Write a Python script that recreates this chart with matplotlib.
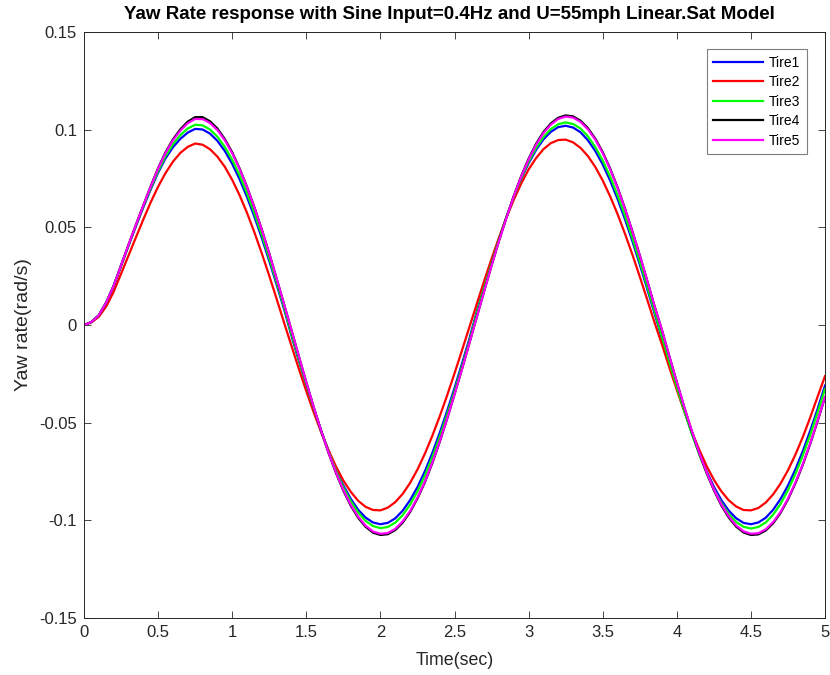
import numpy as np
import matplotlib
matplotlib.use("Agg")
import matplotlib.pyplot as plt
from matplotlib.ticker import FixedLocator, FixedFormatter

plt.rcParams['font.family'] = ['Liberation Sans', 'DejaVu Sans']

# sample times (s)
time_s = np.linspace(0.0, 5.0, 101)

tire1 = [
    0.0000, 0.0015, 0.0050, 0.0115, 0.0200, 0.0302, 0.0405, 0.0505, 0.0602, 0.0694,
    0.0780, 0.0853, 0.0910, 0.0953, 0.0985, 0.1004, 0.1001, 0.0980, 0.0943, 0.0891,
    0.0825, 0.0746, 0.0655, 0.0554, 0.0445, 0.0328, 0.0206, 0.0081, -0.0056, -0.0184,
    -0.0308, -0.0427, -0.0540, -0.0644, -0.0738, -0.0821, -0.0890, -0.0946, -0.0986, -0.1011,
    -0.1020, -0.1013, -0.0990, -0.0951, -0.0897, -0.0830, -0.0749, -0.0656, -0.0553, -0.0441,
    -0.0323, -0.0199, -0.0072, 0.0069, 0.0196, 0.0320, 0.0439, 0.0551, 0.0654, 0.0747,
    0.0828, 0.0896, 0.0950, 0.0989, 0.1013, 0.1020, 0.1011, 0.0987, 0.0946, 0.0891,
    0.0822, 0.0740, 0.0646, 0.0542, 0.0430, 0.0310, 0.0186, 0.0059, -0.0069, -0.0196,
    -0.0320, -0.0439, -0.0551, -0.0654, -0.0747, -0.0828, -0.0896, -0.0950, -0.0989, -0.1013,
    -0.1020, -0.1011, -0.0987, -0.0946, -0.0891, -0.0822, -0.0740, -0.0646, -0.0542, -0.0430,
    -0.0310,
]

tire2 = [
    0.0000, 0.0013, 0.0042, 0.0095, 0.0170, 0.0262, 0.0355, 0.0448, 0.0540, 0.0628,
    0.0708, 0.0778, 0.0836, 0.0881, 0.0912, 0.0929, 0.0923, 0.0900, 0.0862, 0.0810,
    0.0743, 0.0664, 0.0574, 0.0474, 0.0366, 0.0252, 0.0133, 0.0012, -0.0107, -0.0225,
    -0.0339, -0.0447, -0.0549, -0.0641, -0.0724, -0.0796, -0.0854, -0.0900, -0.0931, -0.0947,
    -0.0949, -0.0935, -0.0907, -0.0865, -0.0809, -0.0740, -0.0659, -0.0568, -0.0468, -0.0361,
    -0.0248, -0.0131, -0.0012, 0.0107, 0.0225, 0.0339, 0.0447, 0.0549, 0.0641, 0.0724,
    0.0796, 0.0854, 0.0900, 0.0931, 0.0947, 0.0949, 0.0935, 0.0907, 0.0865, 0.0809,
    0.0740, 0.0659, 0.0568, 0.0468, 0.0361, 0.0248, 0.0131, 0.0012, -0.0100, -0.0218,
    -0.0332, -0.0441, -0.0543, -0.0636, -0.0720, -0.0792, -0.0851, -0.0897, -0.0929, -0.0947,
    -0.0949, -0.0937, -0.0909, -0.0867, -0.0812, -0.0744, -0.0664, -0.0574, -0.0474, -0.0367,
    -0.0262,
]

tire3 = [
    0.0000, 0.0015, 0.0050, 0.0115, 0.0200, 0.0303, 0.0407, 0.0508, 0.0606, 0.0700,
    0.0788, 0.0864, 0.0925, 0.0972, 0.1006, 0.1025, 0.1022, 0.1001, 0.0964, 0.0912,
    0.0846, 0.0766, 0.0674, 0.0572, 0.0461, 0.0342, 0.0218, 0.0090, -0.0047, -0.0177,
    -0.0304, -0.0426, -0.0542, -0.0649, -0.0746, -0.0831, -0.0902, -0.0960, -0.1003, -0.1029,
    -0.1040, -0.1034, -0.1012, -0.0974, -0.0920, -0.0852, -0.0771, -0.0677, -0.0573, -0.0459,
    -0.0339, -0.0213, -0.0084, 0.0060, 0.0189, 0.0315, 0.0437, 0.0551, 0.0657, 0.0752,
    0.0836, 0.0906, 0.0962, 0.1003, 0.1028, 0.1037, 0.1029, 0.1006, 0.0966, 0.0911,
    0.0842, 0.0760, 0.0665, 0.0560, 0.0446, 0.0325, 0.0199, 0.0070, -0.0060, -0.0190,
    -0.0317, -0.0439, -0.0554, -0.0660, -0.0756, -0.0840, -0.0911, -0.0967, -0.1008, -0.1033,
    -0.1042, -0.1034, -0.1011, -0.0971, -0.0916, -0.0846, -0.0763, -0.0668, -0.0563, -0.0448,
    -0.0327,
]

tire4 = [
    0.0000, 0.0015, 0.0050, 0.0115, 0.0200, 0.0305, 0.0410, 0.0512, 0.0612, 0.0710,
    0.0803, 0.0884, 0.0950, 0.1002, 0.1041, 0.1064, 0.1064, 0.1043, 0.1006, 0.0952,
    0.0884, 0.0801, 0.0707, 0.0602, 0.0488, 0.0366, 0.0237, 0.0106, -0.0027, -0.0161,
    -0.0293, -0.0421, -0.0542, -0.0655, -0.0757, -0.0848, -0.0925, -0.0987, -0.1033, -0.1063,
    -0.1075, -0.1071, -0.1050, -0.1012, -0.0958, -0.0888, -0.0805, -0.0708, -0.0599, -0.0481,
    -0.0355, -0.0227, -0.0094, 0.0040, 0.0173, 0.0304, 0.0431, 0.0550, 0.0661, 0.0762,
    0.0851, 0.0927, 0.0988, 0.1032, 0.1061, 0.1073, 0.1068, 0.1046, 0.1008, 0.0954,
    0.0885, 0.0801, 0.0705, 0.0597, 0.0480, 0.0357, 0.0228, 0.0096, -0.0027, -0.0161,
    -0.0292, -0.0420, -0.0541, -0.0653, -0.0755, -0.0845, -0.0923, -0.0985, -0.1032, -0.1062,
    -0.1075, -0.1072, -0.1052, -0.1015, -0.0962, -0.0893, -0.0811, -0.0716, -0.0609, -0.0492,
    -0.0370,
]

tire5 = [
    0.0000, 0.0015, 0.0050, 0.0115, 0.0200, 0.0305, 0.0410, 0.0512, 0.0612, 0.0708,
    0.0800, 0.0880, 0.0945, 0.0995, 0.1033, 0.1055, 0.1054, 0.1034, 0.0998, 0.0946,
    0.0879, 0.0798, 0.0705, 0.0601, 0.0487, 0.0365, 0.0237, 0.0106, -0.0027, -0.0161,
    -0.0293, -0.0420, -0.0541, -0.0653, -0.0754, -0.0844, -0.0920, -0.0981, -0.1027, -0.1057,
    -0.1069, -0.1065, -0.1044, -0.1006, -0.0953, -0.0884, -0.0801, -0.0705, -0.0597, -0.0480,
    -0.0355, -0.0227, -0.0094, 0.0040, 0.0173, 0.0304, 0.0430, 0.0548, 0.0659, 0.0759,
    0.0847, 0.0922, 0.0982, 0.1026, 0.1055, 0.1067, 0.1062, 0.1040, 0.1002, 0.0949,
    0.0880, 0.0797, 0.0702, 0.0595, 0.0479, 0.0357, 0.0228, 0.0096, -0.0027, -0.0161,
    -0.0292, -0.0419, -0.0539, -0.0651, -0.0752, -0.0841, -0.0918, -0.0979, -0.1026, -0.1056,
    -0.1069, -0.1066, -0.1046, -0.1009, -0.0957, -0.0889, -0.0807, -0.0713, -0.0606, -0.0490,
    -0.0368,
]

series_names = ["Tire1", "Tire2", "Tire3", "Tire4", "Tire5"]
series_vals = [tire1, tire2, tire3, tire4, tire5]
series_colors = ["#0000ff", "#ff0000", "#00ff00", "#000000", "#ff00ff"]

x_ticks = [0, 0.5, 1, 1.5, 2, 2.5, 3, 3.5, 4, 4.5, 5]
x_tick_labels = ["0", "0.5", "1", "1.5", "2", "2.5", "3", "3.5", "4", "4.5", "5"]
y_ticks = [-0.15, -0.1, -0.05, 0, 0.05, 0.1, 0.15]
y_tick_labels = ["-0.15", "-0.1", "-0.05", "0", "0.05", "0.1", "0.15"]

title_text = "Yaw Rate response with Sine Input=0.4Hz and U=55mph Linear.Sat Model"
x_label = "Time(sec)"
y_label = "Yaw rate(rad/s)"

W, H = 830, 675
fig = plt.figure(figsize=(W / 100, H / 100), dpi=100)
ax = fig.add_axes([84 / W, 57 / H, 741 / W, 586 / H])

for name, vals, col in zip(series_names, series_vals, series_colors):
    ax.plot(time_s, vals, color=col, lw=1.6, label=name, solid_joinstyle='round')

ax.set_xlim(0, 5)
ax.set_ylim(-0.15, 0.15)
ax.xaxis.set_major_locator(FixedLocator(x_ticks))
ax.xaxis.set_major_formatter(FixedFormatter(x_tick_labels))
ax.yaxis.set_major_locator(FixedLocator(y_ticks))
ax.yaxis.set_major_formatter(FixedFormatter(y_tick_labels))

axcol = "#262626"
ax.tick_params(direction='in', top=True, right=True, length=5, width=0.6,
               colors=axcol, labelsize=12, pad=5)
for sp in ax.spines.values():
    sp.set_color(axcol)
    sp.set_linewidth(0.7)

ax.set_title(title_text, fontsize=13.5, fontweight='bold', color='black', pad=9.5, x=0.4935)
ax.set_xlabel(x_label, fontsize=12.8, color=axcol, labelpad=9)
ax.set_ylabel(y_label, fontsize=14, color=axcol, labelpad=5)

leg = ax.legend(loc='upper right', bbox_to_anchor=(0.9753, 0.9705), borderaxespad=0,
                fontsize=10, handlelength=3.6, handletextpad=0.4, labelspacing=0.4,
                borderpad=0.45, fancybox=False, framealpha=1, edgecolor='#7f7f7f')
leg.get_frame().set_linewidth(0.8)

fig.savefig("out.png", dpi=100)
